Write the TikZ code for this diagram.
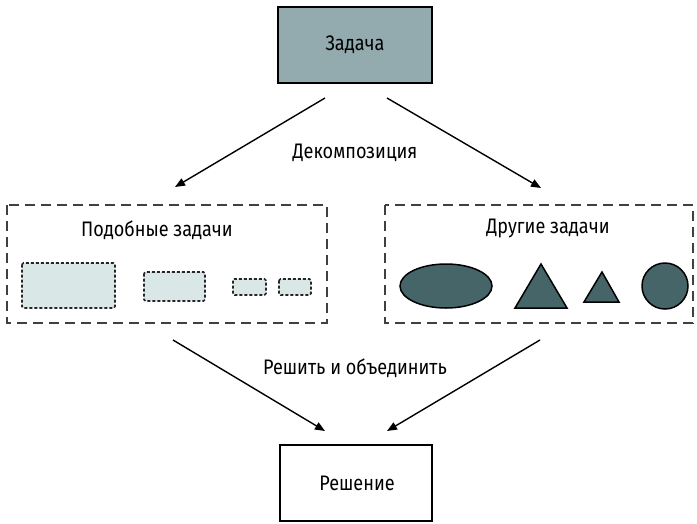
\documentclass[tikz,border=0pt]{standalone}
\usepackage{fontspec}
\setmainfont{Fira Sans}[FakeStretch=0.86]
\usetikzlibrary{arrows.meta,shapes.geometric}
\definecolor{topfill}{HTML}{93ABAF}
\definecolor{lightfill}{HTML}{D9E7E7}
\definecolor{darkfill}{HTML}{466568}
\tikzset{
  lbl/.style={font=\fontsize{21}{25}\selectfont, inner sep=0pt},
  arr/.style={line width=1.4pt, -{Triangle[length=10pt,width=8pt]}},
  solidbox/.style={draw, line width=1.7pt, inner sep=0pt},
  groupbox/.style={draw=black!75, line width=2pt, dash pattern=on 10pt off 6pt},
  smallbox/.style={draw=black!85, fill=lightfill, line width=1.7pt, dash pattern=on 3pt off 2pt, rounded corners=1.5pt},
  darkshape/.style={draw, fill=darkfill, line width=1.5pt},
}
\begin{document}
\begin{tikzpicture}[x=1pt,y=-1pt]
\useasboundingbox (0,0) rectangle (697,523);
% top box
\draw[solidbox, fill=topfill] (278,7) rectangle (432,83);
\node[lbl] (task) at (355,45) {Задача};
% decomposition arrows
\coordinate (d1s) at (325,98); \coordinate (d1e) at (175,187);
\coordinate (d2s) at (387,98); \coordinate (d2e) at (541,188);
\draw[arr] (d1s) -- (d1e);
\draw[arr] (d2s) -- (d2e);
\node[lbl] (decomp) at (355,153) {Декомпозиция};
% left group
\draw[groupbox] (7,205) rectangle (327,323);
\node[lbl] (similar) at (157,230) {Подобные задачи};
\draw[smallbox] (22,263) rectangle (115,308);
\draw[smallbox] (144,272) rectangle (205,301);
\draw[smallbox] (233,279) rectangle (266,295);
\draw[smallbox] (279,279) rectangle (311,295);
% right group
\draw[groupbox] (385,205) rectangle (693,323);
\node[lbl] (other) at (548,228) {Другие задачи};
\draw[darkshape] (446,286) ellipse [x radius=46, y radius=22];
\draw[darkshape] (515,308) -- (541,264) -- (567,308) -- cycle;
\draw[darkshape] (584,302) -- (602,272) -- (619,302) -- cycle;
\draw[darkshape] (665,286) circle [radius=23];
% solve arrows
\coordinate (s1s) at (173,340); \coordinate (s1e) at (325,431);
\coordinate (s2s) at (540,340); \coordinate (s2e) at (387,431);
\draw[arr] (s1s) -- (s1e);
\draw[arr] (s2s) -- (s2e);
\node[lbl] (solve) at (355,368) {Решить и объединить};
% bottom box
\draw[solidbox, fill=white] (280,445) rectangle (432,521);
\node[lbl] (sol) at (357,483) {Решение};
\end{tikzpicture}
\end{document}
